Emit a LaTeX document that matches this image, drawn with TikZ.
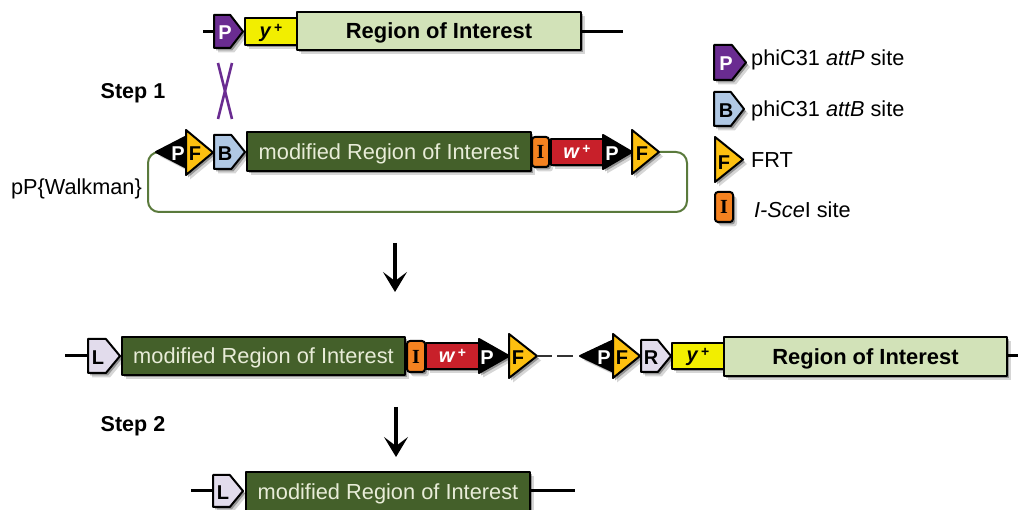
\documentclass[tikz,border=0pt]{standalone}
\usepackage{fontspec}
\setmainfont{Liberation Sans}
\newfontfamily\serifbf{Liberation Serif}
\usetikzlibrary{shadows,arrows.meta}
\definecolor{cpurple}{HTML}{6A2C91}
\definecolor{cyellow}{HTML}{F2EE00}
\definecolor{croi}{HTML}{D2E2B8}
\definecolor{cgreen}{HTML}{44602A}
\definecolor{corange}{HTML}{F58220}
\definecolor{cred}{HTML}{C8202A}
\definecolor{cgold}{HTML}{FDC010}
\definecolor{cblue}{HTML}{B0C8E4}
\definecolor{clilac}{HTML}{E2DCEC}
\definecolor{cloop}{HTML}{5A7A3C}
\definecolor{cpale}{HTML}{E8ECD8}
\tikzset{
  x=1pt,y=-1pt,
  softsh/.style={
    general shadow={shadow xshift=4pt,shadow yshift=-4.5pt,opacity=.16,fill=black},
    general shadow={shadow xshift=2pt,shadow yshift=-2.5pt,opacity=.3,fill=black}},
  part/.style={draw=black,line width=2pt,line join=round,softsh},
  bbox/.style={inner sep=0pt,outer sep=0pt},
  lab/.style={inner sep=0pt,yshift=-1.5pt,font=\fontsize{20}{20}\selectfont\bfseries},
  backbone/.style={draw=black,line width=3pt},
  bigarrow/.style={line width=4pt,-{Stealth[length=20pt,width=24pt,inset=9pt]}},
  crossline/.style={draw=cpurple,line width=2.6pt},
  loopline/.style={draw=cloop,line width=2pt,rounded corners=11pt},
  legendtext/.style={inner sep=0pt,anchor=west,yshift=-2pt,font=\fontsize{21.7}{22}\selectfont},
  steptext/.style={inner sep=0pt,anchor=center,yshift=-2pt,font=\fontsize{21.5}{22}\selectfont\bfseries},
}
% name, x1, x2, y1, y2, fill, text colour, text, text x
\newcommand{\anchorbox}[5]{\node[bbox,minimum width={#3-#2},minimum height={#5-#4}] (#1) at ({(#2+#3)/2},{(#4+#5)/2}) {};}
\newcommand{\penta}[9]{%
  \path[part,fill=#6] (#2,#4) -- ({#2+(#3-#2)*0.56},#4) -- (#3,{(#4+#5)/2}) -- ({#2+(#3-#2)*0.56},#5) -- (#2,#5) -- cycle;
  \anchorbox{#1}{#2}{#3}{#4}{#5}
  \node[lab,text=#7] (#1-t) at (#9,{(#4+#5)/2}) {#8};}
\newcommand{\rtri}[9]{%
  \path[part,fill=#6] (#2,#4) -- (#3,{(#4+#5)/2}) -- (#2,#5) -- cycle;
  \anchorbox{#1}{#2}{#3}{#4}{#5}
  \node[lab,text=#7] (#1-t) at (#9,{(#4+#5)/2}) {#8};}
\newcommand{\ltri}[9]{%
  \path[part,fill=#6] (#3,#4) -- (#2,{(#4+#5)/2}) -- (#3,#5) -- cycle;
  \anchorbox{#1}{#2}{#3}{#4}{#5}
  \node[lab,text=#7] (#1-t) at (#9,{(#4+#5)/2}) {#8};}
\newcommand{\blockbox}[7]{%
  \node[part,bbox,fill=#6,minimum width={#3-#2},minimum height={#5-#4},text=white] (#1) at ({(#2+#3)/2},{(#4+#5)/2}) {#7};}
\newcommand{\isite}[5]{%
  \node[part,bbox,fill=corange,rounded corners=3pt,minimum width={#3-#2},minimum height={#5-#4},font=\serifbf\fontsize{20}{20}\selectfont\bfseries] (#1) at ({(#2+#3)/2},{(#4+#5)/2}) {\raisebox{-1pt}{I}};}
\newcommand{\lowered}[2]{\raisebox{-#1pt}[0pt][0pt]{#2}}
\newcommand{\roitext}{\lowered{8}{\fontsize{21.9}{22}\selectfont\bfseries\textcolor{black}{Region of Interest}}}
\newcommand{\modtext}{\lowered{8}{\fontsize{21.8}{22}\selectfont\textcolor{cpale}{modified Region of Interest}}}
\newcommand{\ytext}{\lowered{6}{\fontsize{20}{20}\selectfont\bfseries\textcolor{black}{\itshape y\,\raisebox{5pt}{\fontsize{14}{14}\selectfont\upshape +}}}}
\newcommand{\wtext}{\lowered{7}{\fontsize{20}{20}\selectfont\bfseries\textcolor{white}{\itshape w\,\raisebox{5pt}{\fontsize{14}{14}\selectfont\upshape +}}}}
\begin{document}
\begin{tikzpicture}
\useasboundingbox (0,0) rectangle (1018,510);
% free ends
\coordinate (t0) at (203,32);
\coordinate (t1) at (623,32);
\coordinate (r30) at (65,356);
\coordinate (r31) at (1018,356);
\coordinate (r40) at (191,491);
\coordinate (r41) at (575,491);
\coordinate (ar1a) at (395,243);
\coordinate (ar1b) at (395,292);
\coordinate (ar2a) at (396,407);
\coordinate (ar2b) at (396,457);
\coordinate (xa) at (218,63);
\coordinate (xb) at (232,119);
\coordinate (xc) at (232,63);
\coordinate (xd) at (218,119);
% backbones
\draw[backbone] (t0) -- (220,32);
\draw[backbone] (570,32) -- (t1);
\draw[backbone] (r30) -- (95,356);
\draw[backbone] (1000,356) -- (r31);
\draw[backbone] (r40) -- (220,491);
\draw[backbone] (520,491) -- (r41);
% top row
\penta{tP}{214}{243}{15}{48}{cpurple}{white}{P}{225}
\blockbox{tY}{245}{297}{18}{45}{cyellow}{\ytext}
\blockbox{tR}{297}{581}{12}{50}{croi}{\roitext}
% cross
\draw[crossline] (xa) -- (xb);
\draw[crossline] (xc) -- (xd);
% second row
\draw[loopline] (660,152) -- (687,152) -- (687,212) -- (148,212) -- (148,152) -- (158,152);
\ltri{sP}{156}{187}{136}{168}{black}{white}{P}{178}
\rtri{sF}{186}{213}{130}{175}{cgold}{black}{F}{195}
\penta{sB}{214}{245}{135}{169}{cblue}{black}{B}{225}
\blockbox{sG}{247}{531}{132}{171}{cgreen}{\modtext}
\isite{sI}{532}{549}{137}{167}
\blockbox{sW}{551}{603}{139}{165}{cred}{\wtext}
\rtri{sQ}{603}{632}{135}{169}{black}{white}{P}{612}
\rtri{sE}{632}{659}{130}{174}{cgold}{black}{F}{642}
\node[legendtext,anchor=east] (walk) at (142,187) {pP\{Walkman\}};
\node[steptext] (st1) at (133,91) {Step 1};
% arrows
\draw[bigarrow] (ar1a) -- (ar1b);
\draw[bigarrow] (ar2a) -- (ar2b);
% legend
\penta{lP}{714}{746}{45}{80}{cpurple}{white}{P}{726}
\node[legendtext] (lPt) at (751,58) {phiC31 \textit{attP} site};
\penta{lB}{714}{744}{92}{126}{cblue}{black}{B}{726}
\node[legendtext] (lBt) at (751,109) {phiC31 \textit{attB} site};
\rtri{lF}{715}{743}{137}{182}{cgold}{black}{\raisebox{-9pt}[0pt][0pt]{F}}{724}
\node[legendtext] (lFt) at (751,158) {FRT};
\isite{lI}{715}{733}{192}{222}
\node[legendtext] (lIt) at (754,208) {\textit{I-Sce}I site};
% third row
\penta{cL}{88}{120}{339}{373}{clilac}{black}{L}{98}
\blockbox{cG}{122}{405}{337}{375}{cgreen}{\modtext}
\isite{cI}{407}{425}{341}{372}
\blockbox{cW}{426}{479}{343}{369}{cred}{\wtext}
\rtri{cQ}{479}{509}{339}{373}{black}{white}{P}{487}
\rtri{cE}{509}{537}{334}{378}{cgold}{black}{F}{518}
\draw[line width=2.2pt,draw=black!80,dash pattern=on 15pt off 5pt on 16pt off 20pt] (cE.east) -- (580,356);
\ltri{dP}{580}{614}{340}{372}{black}{white}{P}{604}
\rtri{dF}{613}{640}{334}{378}{cgold}{black}{F}{622}
\penta{dR}{641}{671}{340}{372}{clilac}{black}{R}{651}
\blockbox{dY}{672}{724}{343}{369}{cyellow}{\ytext}
\blockbox{dR2}{724}{1007}{337}{376}{croi}{\roitext}
\node[steptext] (st2) at (133,424) {Step 2};
% fourth row
\penta{fL}{213}{243}{475}{507}{clilac}{black}{L}{223}
\blockbox{fG}{246}{530}{472}{511}{cgreen}{\modtext}
\end{tikzpicture}
\end{document}
